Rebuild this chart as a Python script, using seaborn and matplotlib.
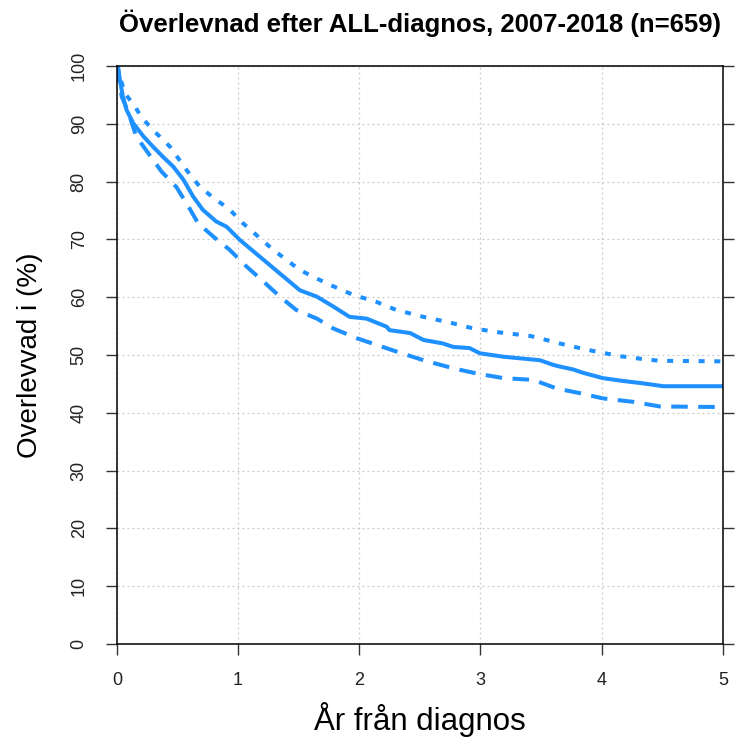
import numpy as np
import pandas as pd
import matplotlib
matplotlib.use("Agg")
import matplotlib.pyplot as plt
import seaborn as sns

# Kaplan-Meier estimate (years, survival %)
km_years = [0.0, 0.01, 0.025, 0.05, 0.08, 0.135, 0.22, 0.30, 0.38, 0.465, 0.55, 0.63,
            0.71, 0.82, 0.905, 1.015, 1.18, 1.345, 1.51, 1.65, 1.785, 1.92, 2.06,
            2.225, 2.25, 2.42, 2.53, 2.69, 2.775, 2.91, 2.995, 3.19, 3.49, 3.60,
            3.655, 3.765, 3.85, 4.01, 4.18, 4.34, 4.51, 5.0]
km_surv = [100.0, 99.9, 97.6, 94.7, 92.4, 90.1, 87.8, 86.0, 84.3, 82.6, 80.3, 77.4,
           75.1, 73.1, 72.2, 69.9, 67.0, 64.1, 61.2, 60.1, 58.4, 56.6, 56.3,
           54.9, 54.3, 53.8, 52.6, 52.0, 51.4, 51.2, 50.3, 49.7, 49.1, 48.3,
           48.0, 47.5, 46.9, 46.0, 45.5, 45.1, 44.6, 44.6]

# Upper confidence limit
upper_years = [0.0, 0.065, 0.15, 0.20, 0.30, 0.44, 0.575, 0.685, 0.82, 0.92, 1.04,
               1.29, 1.51, 1.73, 1.95, 2.14, 2.305, 2.53, 2.75, 2.94, 3.16, 3.41,
               3.60, 3.71, 3.82, 3.93, 4.03, 4.15, 4.34, 4.48, 5.0]
upper_surv = [100.0, 95.3, 93.0, 91.2, 88.9, 86.0, 82.0, 79.1, 76.8, 75.4, 72.8,
              68.2, 64.7, 62.4, 60.4, 59.2, 57.8, 56.6, 55.6, 54.6, 53.9, 53.3,
              52.3, 51.7, 51.2, 50.7, 50.3, 49.8, 49.3, 49.0, 48.9]

# Lower confidence limit
lower_years = [0.0, 0.04, 0.065, 0.11, 0.16, 0.27, 0.37, 0.49, 0.59, 0.67, 0.795,
               0.93, 1.07, 1.21, 1.345, 1.48, 1.65, 1.785, 1.98, 2.335, 2.53, 2.775,
               2.97, 3.19, 3.435, 3.63, 3.82, 4.01, 4.26, 4.48, 5.0]
lower_surv = [100.0, 94.7, 93.5, 91.0, 87.8, 84.6, 81.7, 79.1, 75.7, 72.8, 70.5,
              68.2, 65.3, 62.7, 60.1, 57.8, 56.3, 54.6, 52.9, 50.4, 49.1, 47.7,
              46.8, 46.0, 45.7, 44.2, 43.4, 42.5, 41.9, 41.1, 41.0]

x_ticks = [0, 1, 2, 3, 4, 5]
y_ticks = [0, 10, 20, 30, 40, 50, 60, 70, 80, 90, 100]

title = "Överlevnad efter ALL-diagnos, 2007-2018 (n=659)"
x_label = "År från diagnos"
y_label = "Overlevvad i (%)"

sns.set_theme(style="white")
plt.rcParams["font.family"] = ["Liberation Sans", "DejaVu Sans"]

color = "#1E90FF"

fig = plt.figure(figsize=(7.35, 7.4), dpi=100)
ax = fig.add_axes([0.159, 0.1297, 0.8245, 0.7811])

curves = [
    (km_years, km_surv, "-"),
    (upper_years, upper_surv, (0, (1.5, 2.4))),
    (lower_years, lower_surv, (0, (4.1, 2.6))),
]
for xs, ys, ls in curves:
    df = pd.DataFrame({"years": xs, "surv": ys})
    sns.lineplot(data=df, x="years", y="surv", ax=ax, estimator=None, sort=False,
                 color=color, linewidth=2.9, linestyle=ls)

ax.set_xlim(0, 5)
ax.set_ylim(0, 100)
ax.set_xticks(x_ticks)
ax.set_yticks(y_ticks)
ax.set_xticklabels([str(t) for t in x_ticks])
ax.set_yticklabels([str(t) for t in y_ticks], rotation=90, va="center")

ax.grid(True, color="#c8c8c8", linestyle=(0, (1.5, 2.5)), linewidth=0.9)
ax.set_axisbelow(True)

for side in ["left", "right", "top", "bottom"]:
    ax.spines[side].set_visible(True)
    ax.spines[side].set_color("black")
    ax.spines[side].set_linewidth(1.1)

ax.tick_params(axis="both", which="major", direction="out", length=8, width=1.0,
               color="#333333", labelcolor="#222222")
ax.tick_params(axis="x", labelsize=13, pad=12, bottom=True, top=False)
ax.tick_params(axis="y", labelsize=13, pad=13, right=True, left=True,
               labelright=False)

ax.set_xlabel(x_label, fontsize=22.5, color="black", va="top")
ax.xaxis.set_label_coords(0.5, -0.101)
ax.set_ylabel(y_label, fontsize=20, color="black")
ax.yaxis.set_label_coords(-0.122, 0.5)

fig.text(420 / 735, 1 - 23 / 740, title, fontsize=18.5, fontweight="bold",
         ha="center", va="center", color="black")

fig.savefig("out.png", dpi=100)
